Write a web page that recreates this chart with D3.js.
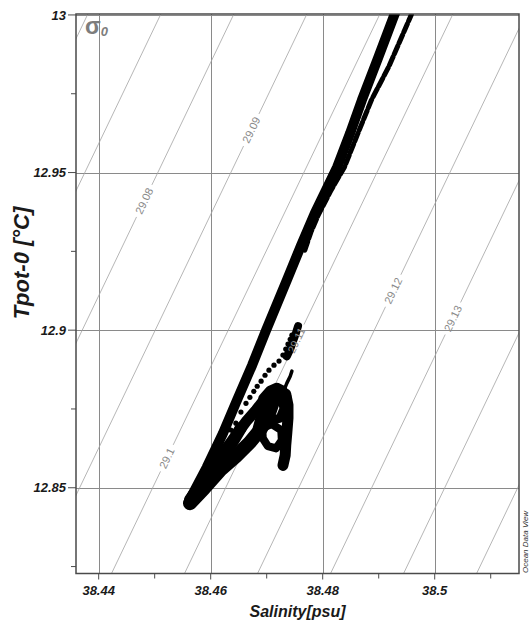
<!DOCTYPE html>
<html>
<head>
<meta charset="utf-8">
<script src="https://cdn.jsdelivr.net/npm/d3@7"></script>
<style>
  body { margin: 0; background: #fff; }
  svg { display: block; }
  text { font-family: Arial, "Liberation Sans", sans-serif; }
</style>
</head>
<body>
<svg id="chart" width="530" height="622"></svg>
<script>
// ---- axis ticks ----
const salinityTicks = [38.44, 38.46, 38.48, 38.5];
const salinityTickLabels = ["38.44", "38.46", "38.48", "38.5"];
const salinityMinorTicks = [38.45, 38.47, 38.49, 38.51];
const tempTicks = [12.85, 12.9, 12.95, 13];
const tempTickLabels = ["12.85", "12.9", "12.95", "13"];
const tempMinorTicks = [12.825, 12.875, 12.925, 12.975];

// ---- isopycnals (sigma-0, kg/m3 - 1000) ----
const sigmaLevels = [29.05, 29.06, 29.07, 29.08, 29.09, 29.1, 29.11, 29.12, 29.13, 29.14, 29.15, 29.16];
const sigmaLabelLevels = [29.08, 29.09, 29.1, 29.11, 29.12, 29.13];
const sigmaLabelText = ["29.08", "29.09", "29.1", "29.11", "29.12", "29.13"];
const sigmaLabelTemps = [12.9410, 12.9635, 12.8594, 12.8968, 12.9125, 12.9037];
// linearised equation of state around the water mass
const sigmaRef = 29.10, salRef = 38.44229, tempRef = 12.8228;
const betaRho = 0.767, alphaRho = 0.2071;

// ---- CTD samples: [salinity, potential temperature] ----
const bandUpper = [[38.4561,12.8457],[38.4593,12.8565],[38.4622,12.8673],[38.4647,12.8778],[38.4674,12.8889],
  [38.4699,12.9000],[38.4736,12.9159],[38.4761,12.9267],[38.4786,12.9371],[38.4826,12.9518],[38.4849,12.9625],
  [38.4870,12.9730],[38.4899,12.9864],[38.4930,13.0010]];
const bandUpperEast = [[38.4768,12.9254],[38.4779,12.9311],[38.4792,12.9365],[38.4815,12.9444],[38.4839,12.9518],
  [38.4863,12.9625],[38.4887,12.9730],[38.4918,12.9836],[38.4958,13.0000],[38.4961,13.0016]];
const bandLower = [[38.4563,12.8451],[38.4588,12.8498],[38.4617,12.8556],[38.4645,12.8600],[38.4670,12.8644],
  [38.4688,12.8683],[38.4701,12.8721],[38.4709,12.8762],[38.4717,12.8803]];
const bandInner = [[38.4567,12.8473],[38.4588,12.8530],[38.4609,12.8581],[38.4631,12.8632],[38.4649,12.8676],
  [38.4665,12.8714],[38.4681,12.8746],[38.4695,12.8778]];
const bandMid = [[38.4563,12.8462],[38.4585,12.8515],[38.4604,12.8562],[38.4622,12.8605],[38.4640,12.8648],
  [38.4654,12.8690]];
const blobWest = [[38.4683,12.8689],[38.4688,12.8721],[38.4695,12.8752],[38.4702,12.8784]];
const stalk = [[38.4734,12.8797],[38.4738,12.8762],[38.4738,12.8721],[38.4736,12.8676],[38.4734,12.8635],
  [38.4733,12.8603],[38.4729,12.8571]];
const capArc = [[38.4693,12.8784],[38.4706,12.8810],[38.4718,12.8819],[38.4729,12.8810],[38.4736,12.8790]];
const loopNorth = [[38.4697,12.8778],[38.4711,12.8794],[38.4727,12.8778],[38.4731,12.8752],[38.4724,12.8721],
  [38.4709,12.8714],[38.4699,12.8733],[38.4697,12.8778]];
const loopSouth = [[38.4692,12.8689],[38.4709,12.8702],[38.4726,12.8683],[38.4727,12.8651],[38.4717,12.8625],
  [38.4702,12.8632],[38.4693,12.8657],[38.4692,12.8689]];
const spike = [[38.4731,12.8810],[38.4736,12.8832],[38.4742,12.8854],[38.4745,12.8870]];
const clusterNorth = [[38.4756,12.9013],[38.4752,12.8990],[38.4747,12.8965],[38.4742,12.8940],[38.4736,12.8917]];
const dottedTrack = [[38.4636,12.8683],[38.4645,12.8705],[38.4654,12.8740],[38.4663,12.8768],[38.4670,12.8787],
  [38.4677,12.8806],[38.4683,12.8822],[38.4690,12.8838],[38.4697,12.8857],[38.4704,12.8873],[38.4713,12.8889],
  [38.4722,12.8902],[38.4729,12.8921],[38.4734,12.8940],[38.4738,12.8956],[38.4742,12.8971],[38.4745,12.8984]];

// ---- layout ----
const svg = d3.select("#chart");
const plot = { left: 76, right: 519, top: 14, bottom: 573.5 };
const x = d3.scaleLinear().domain([38.43595, 38.51505]).range([plot.left, plot.right]);
const y = d3.scaleLinear().domain([12.8228, 13.0003]).range([plot.bottom, plot.top]);

svg.append("defs").append("clipPath").attr("id", "plotClip")
  .append("rect")
  .attr("x", plot.left).attr("y", plot.top)
  .attr("width", plot.right - plot.left).attr("height", plot.bottom - plot.top);

// grid
const grid = svg.append("g").attr("stroke", "#8a8a8a").attr("stroke-width", 1);
grid.selectAll("line.gx").data(salinityTicks).join("line")
  .attr("class", "gx")
  .attr("x1", d => Math.round(x(d)) + 0.5).attr("x2", d => Math.round(x(d)) + 0.5)
  .attr("y1", plot.top).attr("y2", plot.bottom);
grid.selectAll("line.gy").data(tempTicks).join("line")
  .attr("class", "gy")
  .attr("y1", d => Math.round(y(d)) + 0.5).attr("y2", d => Math.round(y(d)) + 0.5)
  .attr("x1", plot.left).attr("x2", plot.right);

// isopycnals
const salinityOn = (sigma, t) => salRef + (sigma - sigmaRef + alphaRho * (t - tempRef)) / betaRho;
const isoLayer = svg.append("g").attr("clip-path", "url(#plotClip)");
const isoLabels = svg.append("g");
const tLow = 12.80, tHigh = 13.02;

sigmaLevels.forEach(level => {
  const p0 = [x(salinityOn(level, tLow)), y(tLow)];
  const p1 = [x(salinityOn(level, tHigh)), y(tHigh)];
  const len = Math.hypot(p1[0] - p0[0], p1[1] - p0[1]);
  const u = [(p1[0] - p0[0]) / len, (p1[1] - p0[1]) / len];
  const li = sigmaLabelLevels.findIndex(v => Math.abs(v - level) < 1e-9);
  let segments = [[p0, p1]];
  if (li >= 0) {
    const tl = sigmaLabelTemps[li];
    const c = [x(salinityOn(level, tl)), y(tl)];
    const angle = Math.atan2(u[1], u[0]) * 180 / Math.PI;
    const label = isoLabels.append("text")
      .attr("transform", `translate(${c[0]},${c[1]}) rotate(${angle})`)
      .attr("text-anchor", "middle")
      .attr("dy", "0.35em")
      .attr("font-size", 11)
      .attr("fill", "#8a8a8a")
      .text(sigmaLabelText[li]);
    const g = label.node().getComputedTextLength() / 2 + 4;
    segments = [[p0, [c[0] - u[0] * g, c[1] - u[1] * g]], [[c[0] + u[0] * g, c[1] + u[1] * g], p1]];
  }
  segments.forEach(s => {
    isoLayer.append("line")
      .attr("x1", s[0][0]).attr("y1", s[0][1])
      .attr("x2", s[1][0]).attr("y2", s[1][1])
      .attr("stroke", "#a3a3a3").attr("stroke-width", 0.8);
  });
});

// data
const dataLayer = svg.append("g").attr("clip-path", "url(#plotClip)");
const line = d3.line().x(d => x(d[0])).y(d => y(d[1]));
const tracks = [
  { pts: bandUpper, w: 10 },
  { pts: bandUpperEast, w: 5, dash: "9 3" },
  { pts: bandLower, w: 14 },
  { pts: bandInner, w: 11 },
  { pts: bandMid, w: 12 },
  { pts: blobWest, w: 9 },
  { pts: stalk, w: 11 },
  { pts: capArc, w: 9 },
  { pts: loopNorth, w: 9 },
  { pts: loopSouth, w: 8 },
  { pts: spike, w: 3.5 },
  { pts: clusterNorth, w: 8 }
];
dataLayer.selectAll("path.track").data(tracks).join("path")
  .attr("class", "track")
  .attr("d", d => line(d.pts))
  .attr("fill", "none")
  .attr("stroke", "#000")
  .attr("stroke-width", d => d.w)
  .attr("stroke-dasharray", d => d.dash || null)
  .attr("stroke-linecap", "round")
  .attr("stroke-linejoin", "round");
dataLayer.selectAll("circle.dot").data(dottedTrack).join("circle")
  .attr("class", "dot")
  .attr("cx", d => x(d[0])).attr("cy", d => y(d[1]))
  .attr("r", 2.6).attr("fill", "#000");

// put labels above the data
isoLabels.raise();

// frame
svg.append("rect")
  .attr("x", plot.left).attr("y", plot.top)
  .attr("width", plot.right - plot.left).attr("height", plot.bottom - plot.top)
  .attr("fill", "none").attr("stroke", "#4a4a4a").attr("stroke-width", 1.5);

// ticks
const ticks = svg.append("g").attr("stroke", "#4a4a4a").attr("stroke-width", 1);
ticks.selectAll("line.ty").data(tempTicks).join("line")
  .attr("class", "ty")
  .attr("x1", plot.left - 8).attr("x2", plot.left)
  .attr("y1", d => y(d)).attr("y2", d => y(d));
ticks.selectAll("line.tym").data(tempMinorTicks).join("line")
  .attr("class", "tym")
  .attr("x1", plot.left - 5).attr("x2", plot.left)
  .attr("y1", d => y(d)).attr("y2", d => y(d));
ticks.selectAll("line.tx").data(salinityTicks).join("line")
  .attr("class", "tx")
  .attr("x1", d => x(d)).attr("x2", d => x(d))
  .attr("y1", plot.bottom).attr("y2", plot.bottom + 6);
ticks.selectAll("line.txm").data(salinityMinorTicks).join("line")
  .attr("class", "txm")
  .attr("x1", d => x(d)).attr("x2", d => x(d))
  .attr("y1", plot.bottom).attr("y2", plot.bottom + 5);

// tick labels
svg.append("g").selectAll("text").data(tempTicks).join("text")
  .attr("x", plot.left - 10).attr("y", d => y(d))
  .attr("dy", "0.36em")
  .attr("text-anchor", "end")
  .attr("font-size", 13).attr("font-weight", "bold").attr("font-style", "italic")
  .attr("fill", "#1a1a1a")
  .text((d, i) => tempTickLabels[i]);
svg.append("g").selectAll("text").data(salinityTicks).join("text")
  .attr("x", d => x(d)).attr("y", 595)
  .attr("text-anchor", "middle")
  .attr("font-size", 13).attr("font-weight", "bold").attr("font-style", "italic")
  .attr("fill", "#1a1a1a")
  .text((d, i) => salinityTickLabels[i]);

// axis titles
svg.append("text")
  .attr("x", (plot.left + plot.right) / 2).attr("y", 617)
  .attr("text-anchor", "middle")
  .attr("font-size", 16).attr("font-weight", "bold").attr("font-style", "italic")
  .attr("fill", "#1a1a1a")
  .text("Salinity[psu]");
svg.append("text")
  .attr("transform", `translate(29,263) rotate(-90)`)
  .attr("text-anchor", "middle")
  .attr("font-size", 22).attr("font-weight", "bold").attr("font-style", "italic")
  .attr("fill", "#1a1a1a")
  .text("Tpot-0 [°C]");

// sigma-0 marker
const sig = svg.append("text").attr("x", 85).attr("y", 33.5).attr("fill", "#7d7d7d");
sig.append("tspan").attr("font-size", 23).attr("font-weight", "bold").text("σ");
sig.append("tspan").attr("font-size", 13).attr("font-weight", "bold").attr("font-style", "italic")
  .attr("dy", 2).text("0");

// software credit
svg.append("text")
  .attr("transform", `translate(528,573) rotate(-90)`)
  .attr("font-size", 8).attr("font-style", "italic")
  .attr("fill", "#333")
  .text("Ocean Data View");
</script>
</body>
</html>
